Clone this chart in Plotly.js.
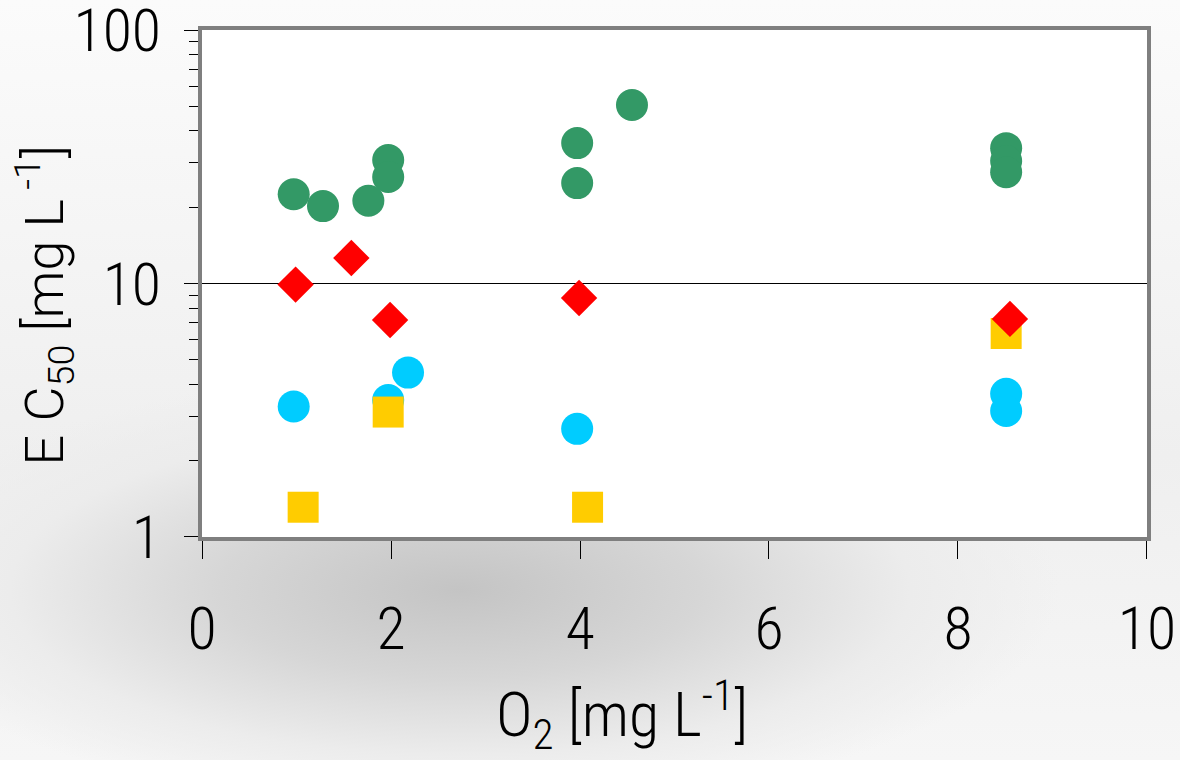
<!DOCTYPE html>
<html>
<head>
<meta charset="utf-8">
<script src="https://cdn.plot.ly/plotly-3.0.1.min.js"></script>
<style>
  html, body { margin: 0; padding: 0; }
  body {
    width: 1180px; height: 760px; overflow: hidden;
    background:
      radial-gradient(ellipse 600px 220px at 460px 590px, #c4c4c4 0%, #d6d6d6 40%, #ececec 75%, rgba(255,255,255,0) 100%),
      linear-gradient(to bottom, #fbfbfb 0%, #efefef 60%, #f6f6f6 100%);
  }
  #chart { width: 1180px; height: 760px; }
</style>
</head>
<body>
<div id="chart"></div>
<script>
// Data
const o2Green   = [0.97, 1.28, 1.76, 1.97, 1.97, 3.97, 3.97, 4.55, 8.51, 8.51, 8.51];
const ec50Green = [22.5, 20.2, 21.2, 30.7, 26.3, 35.8, 24.9, 50.6, 34.2, 30.4, 27.5];

const o2Cyan    = [0.97, 1.97, 2.18, 3.97, 8.51, 8.51];
const ec50Cyan  = [3.27, 3.47, 4.45, 2.67, 3.67, 3.14];

const o2Yellow   = [1.07, 1.97, 4.08, 8.51];
const ec50Yellow = [1.31, 3.11, 1.31, 6.35];

const o2Red   = [0.99, 1.58, 1.99, 3.99, 8.55];
const ec50Red = [9.9, 12.6, 7.18, 8.77, 7.25];

const xTickVals = [0, 2, 4, 6, 8, 10];
const xTickText = ['0', '2', '4', '6', '8', '10'];
const yTickVals = [1, 10, 100];
const yTickText = ['1', '10', '100'];
const yMinorVals = [2, 3, 4, 5, 6, 7, 8, 9, 20, 30, 40, 50, 60, 70, 80, 90];

const thinFont = 'Roboto Condensed, Roboto, Lato, Open Sans, sans-serif';

const traces = [
  { x: o2Green, y: ec50Green, type: 'scatter', mode: 'markers', name: 'green',
    marker: { symbol: 'circle', size: 32, color: '#339966', line: { width: 0 } } },
  { x: o2Cyan, y: ec50Cyan, type: 'scatter', mode: 'markers', name: 'cyan',
    marker: { symbol: 'circle', size: 32, color: '#00CCFF', line: { width: 0 } } },
  { x: o2Yellow, y: ec50Yellow, type: 'scatter', mode: 'markers', name: 'yellow',
    marker: { symbol: 'square', size: 31, color: '#FFCC00', line: { width: 0 } } },
  { x: o2Red, y: ec50Red, type: 'scatter', mode: 'markers', name: 'red',
    marker: { symbol: 'diamond', size: 28, color: '#FF0000', line: { width: 0 } } }
];

const layout = {
  width: 1180, height: 760,
  paper_bgcolor: 'rgba(0,0,0,0)',
  plot_bgcolor: '#ffffff',
  showlegend: false,
  margin: { l: 202, r: 33, t: 30, b: 223 },
  font: { family: thinFont, color: '#000000', size: 60, weight: 300 },
  xaxis: {
    range: [-0.0005, 10.0005], tickmode: 'array', tickvals: xTickVals, ticktext: xTickText,
    showgrid: false, zeroline: false,
    showline: true, linecolor: '#7f7f7f', linewidth: 4, mirror: true,
    ticks: 'outside', ticklen: 18, tickwidth: 1, tickcolor: '#000000',
    ticklabelstandoff: 18, ticklabeloverflow: 'allow',
    tickfont: { family: thinFont, size: 60, color: '#000000', weight: 300 }
  },
  yaxis: {
    type: 'log', range: [-0.0002, 2.0002],
    tickmode: 'array', tickvals: yTickVals, ticktext: yTickText,
    showgrid: true, gridcolor: '#000000', gridwidth: 1,
    zeroline: false,
    showline: true, linecolor: '#7f7f7f', linewidth: 4, mirror: true,
    ticks: 'outside', ticklen: 14, tickwidth: 1, tickcolor: '#000000',
    ticklabelstandoff: 11, ticklabeloverflow: 'allow',
    tickfont: { family: thinFont, size: 60, color: '#000000', weight: 300 },
    minor: { tickvals: yMinorVals, ticks: 'outside', ticklen: 9, tickwidth: 1,
             tickcolor: '#000000', showgrid: false }
  },
  annotations: [
    { text: 'O<sub>2</sub> [mg L<sup>-1</sup>]', xref: 'paper', yref: 'paper',
      x: 0.444, y: -0.351, xanchor: 'center', yanchor: 'middle', showarrow: false,
      font: { family: thinFont, size: 62, color: '#000000', weight: 300 } },
    { text: 'E C<sub>50</sub> [mg L<sup> -1</sup>]', xref: 'paper', yref: 'paper',
      x: -0.1667, y: 0.4576, xanchor: 'center', yanchor: 'middle', showarrow: false,
      textangle: -90,
      font: { family: 'Roboto, Lato, Open Sans, sans-serif', size: 54, color: '#000000', weight: 300 } }
  ]
};

Plotly.newPlot('chart', traces, layout, { displayModeBar: false, staticPlot: true });
</script>
</body>
</html>
